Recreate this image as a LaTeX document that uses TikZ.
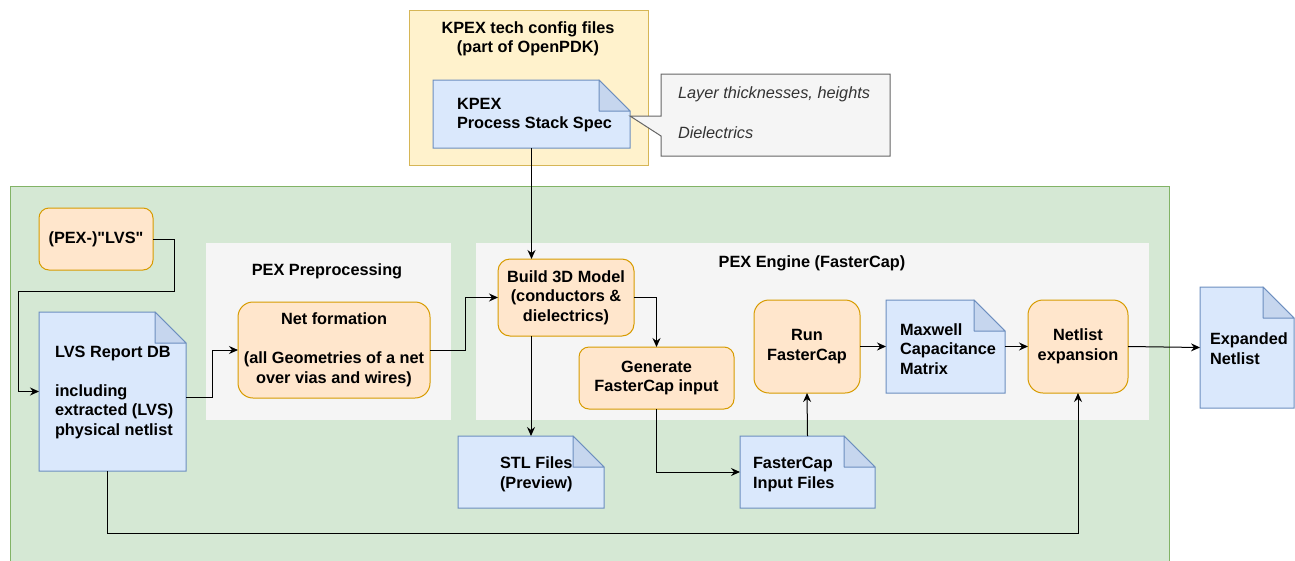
\documentclass[tikz,border=0pt]{standalone}
\usepackage{fontspec}
\setmainfont{Liberation Sans}
\usetikzlibrary{arrows.meta,calc}
\definecolor{greenF}{HTML}{D5E8D4}
\definecolor{greenB}{HTML}{82B366}
\definecolor{yelF}{HTML}{FFF2CC}
\definecolor{yelB}{HTML}{D6B656}
\definecolor{blueF}{HTML}{DAE8FC}
\definecolor{blueB}{HTML}{6C8EBF}
\definecolor{foldF}{HTML}{C6D6EE}
\definecolor{orF}{HTML}{FFE6CC}
\definecolor{orB}{HTML}{D79B00}
\definecolor{grayF}{HTML}{F5F5F5}
\definecolor{grayB}{HTML}{666666}
\definecolor{grayT}{HTML}{333333}
\newcommand\docoutline[1]{%
  \filldraw[docline] (#1.north west) -- ($(#1.north east)+(-31,0)$) -- ($(#1.north east)+(0,31)$) -- (#1.south east) -- (#1.south west) -- cycle;
  \filldraw[foldline] ($(#1.north east)+(-31,0)$) -- ($(#1.north east)+(-31,31)$) -- ($(#1.north east)+(0,31)$) -- cycle;}
\begin{document}
\begin{tikzpicture}[x=1pt,y=-1pt,
  every node/.style={font=\fontsize{16.3}{19.5}\selectfont\bfseries, inner sep=0pt, outer sep=0pt},
  procbox/.style={draw=orB, fill=orF, line width=1pt, align=center, rounded corners=#1},
  docline/.style={draw=blueB, fill=blueF, line width=1pt},
  foldline/.style={draw=blueB, fill=foldF, line width=1pt, line join=round},
  doctext/.style={anchor=west, align=left},
  region/.style={fill=grayF},
  calltext/.style={anchor=west, font=\fontsize{16.3}{19.5}\selectfont\itshape, text=grayT},
  arr/.style={-{Stealth[length=9pt,width=8pt,inset=3pt]}, line width=1pt}
]
\useasboundingbox (0,0) rectangle (1295,560);
\clip (0,0) rectangle (1295,560);
% outer containers
\filldraw[draw=greenB, fill=greenF, line width=1pt] (10,186) rectangle (1169,600);
\node[draw=yelB, fill=yelF, line width=1pt, minimum width=239pt, minimum height=155pt] (cfg) at (528.5,87.5) {};
\node[align=center] (cfgtitle) at (528,39) {KPEX tech config files\\(part of OpenPDK)};
% process stack spec note
\node[minimum width=197pt, minimum height=68pt] (pss) at (531.5,114) {};
\docoutline{pss}
\node[doctext] (psstext) at (457,115) {KPEX\\Process Stack Spec};
% callout
\node[minimum width=229pt, minimum height=82pt] (call) at (775.5,115) {};
\filldraw[draw=grayB, fill=grayF, line width=1pt] (call.north west) -- (call.north east) -- (call.south east) -- (call.south west) -- ($(call.north west)+(0,62)$) -- ($(pss.north east)+(0,36)$) -- ($(call.north west)+(0,42)$) -- cycle;
\node[calltext] (callt1) at (678,94) {Layer thicknesses, heights};
\node[calltext] (callt2) at (678,133) {Dielectrics};
% regions
\node[region, minimum width=245pt, minimum height=177pt] (pre) at (328.5,331.5) {};
\node (pretitle) at (327,271) {PEX Preprocessing};
\node[region, minimum width=673pt, minimum height=177pt] (eng) at (812.5,331.5) {};
\node (engtitle) at (812,263) {PEX Engine (FasterCap)};
% process boxes
\node[procbox=10pt, minimum width=114pt, minimum height=62pt] (lvs) at (96,239) {(PEX-)\textquotedbl LVS\textquotedbl};
\node[procbox=15pt, minimum width=192pt, minimum height=96pt] (net) at (334,350) {Net formation\\\mbox{}\\(all Geometries of a net\\over vias and wires)};
\node[procbox=12pt, minimum width=136pt, minimum height=77pt] (b3d) at (566,297.5) {Build 3D Model\\(conductors \&\\dielectrics)};
\node[procbox=10pt, minimum width=155pt, minimum height=62pt] (gen) at (656.5,378) {Generate\\FasterCap input};
\node[procbox=15pt, minimum width=106pt, minimum height=93pt] (run) at (807,346.5) {Run\\FasterCap};
\node[procbox=15pt, minimum width=100pt, minimum height=93pt] (nexp) at (1078,346.5) {Netlist\\expansion};
% documents
\node[minimum width=147pt, minimum height=159pt] (lvsdb) at (112.5,391.5) {};
\docoutline{lvsdb}
\node[doctext] (lvsdbtext) at (55,392) {LVS Report DB\\\mbox{}\\including\\extracted (LVS)\\physical netlist};
\node[minimum width=146pt, minimum height=72pt] (stl) at (531,472) {};
\docoutline{stl}
\node[doctext] (stltext) at (500,474.5) {STL Files\\(Preview)};
\node[minimum width=135pt, minimum height=72pt] (fci) at (807.5,472) {};
\docoutline{fci}
\node[doctext] (fcitext) at (753,474.5) {FasterCap\\Input Files};
\node[minimum width=119pt, minimum height=93pt] (max) at (945.5,346.5) {};
\docoutline{max}
\node[doctext] (maxtext) at (900,349) {Maxwell\\Capacitance\\Matrix};
\node[minimum width=94pt, minimum height=121pt] (exp) at (1247,347.5) {};
\docoutline{exp}
\node[doctext] (exptext) at (1210,348.5) {Expanded\\Netlist};
% connectors
\draw[arr] (lvs.east) -- ++(21,0) -- ++(0,52) -| ([xshift=-21pt]lvsdb.west) -- (lvsdb.west);
\draw[arr] ($(lvsdb.north east)+(0,85)$) -- ++(26,0) |- (net.west);
\draw[arr] (net.east) -- ++(35,0) |- (b3d.west);
\draw[arr] (pss.south) -- (pss.south |- b3d.north);
\draw[arr] (b3d.east) -| (gen.north);
\draw[arr] (stl.north |- b3d.south) -- (stl.north);
\draw[arr] (gen.south) |- (fci.west);
\draw[arr] (fci.north) -- (run.south);
\draw[arr] (run.east) -- (max.west);
\draw[arr] (max.east) -- (nexp.west);
\draw[arr] (nexp.east) -- (exp.west);
\draw[arr] ($(lvsdb.south west)+(68,0)$) -- ++(0,62) -| (nexp.south);
\end{tikzpicture}
\end{document}
